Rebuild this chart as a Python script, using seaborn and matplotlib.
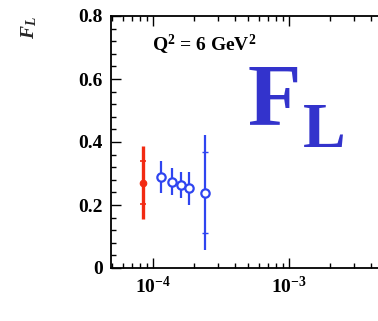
import numpy as np
import pandas as pd
import matplotlib
matplotlib.use("Agg")
import matplotlib.pyplot as plt
import seaborn as sns
from matplotlib.ticker import FixedLocator, LogLocator, FuncFormatter, MultipleLocator, NullFormatter

# H1 measurement (red) at lowest x
x_red = [8.4e-5]
fl_red = [0.271]
tot_red = [0.115]
stat_red = [0.068]

# ZEUS-like points (blue, open circles)
x_blue = [1.15e-4, 1.39e-4, 1.60e-4, 1.85e-4, 2.41e-4]
fl_blue = [0.290, 0.274, 0.263, 0.253, 0.239]
tot_blue = [0.051, 0.043, 0.042, 0.052, 0.183]
stat_blue_x = [2.41e-4]
stat_blue_y = [0.239]
stat_blue = [0.128]

y_ticks = [0, 0.2, 0.4, 0.6, 0.8]
y_labels = ["0", "0.2", "0.4", "0.6", "0.8"]
x_ticks = [1e-4, 1e-3]
x_labels = [r"$\mathbf{10^{-4}}$", r"$\mathbf{10^{-3}}$"]

RED = "#f22a12"
BLUE = "#2f45f0"
TITLE_BLUE = "#3333cc"

sns.set_theme(style="ticks")
plt.rcParams["font.family"] = ["Liberation Serif", "DejaVu Serif"]
plt.rcParams["mathtext.fontset"] = "custom"
plt.rcParams["mathtext.rm"] = "Liberation Serif"
plt.rcParams["mathtext.bf"] = "Liberation Serif:bold"
plt.rcParams["mathtext.it"] = "Liberation Serif:italic:bold"

fig = plt.figure(figsize=(3.78, 3.21), dpi=100)
fig.patch.set_facecolor("white")
ax = fig.add_axes([111 / 378, 53 / 321, 267 / 378, 252 / 321])
ax.set_facecolor("white")
ax.set_xscale("log")
ax.set_xlim(10 ** -4.309, 10 ** -2.346)
ax.set_ylim(0, 0.8)

df_red = pd.DataFrame({"x": x_red, "fl": fl_red})
df_blue = pd.DataFrame({"x": x_blue, "fl": fl_blue})

# total error bars
ax.errorbar(x_red, fl_red, yerr=tot_red, fmt="none", ecolor=RED,
            elinewidth=2.4, capsize=0, zorder=2)
ax.errorbar(x_blue, fl_blue, yerr=tot_blue, fmt="none", ecolor=BLUE,
            elinewidth=1.6, capsize=0, zorder=2)
# statistical error marks
ax.errorbar(x_red, fl_red, yerr=stat_red, fmt="none", ecolor=RED,
            elinewidth=0, capsize=2.0, capthick=1.2, zorder=2)
ax.errorbar(stat_blue_x, stat_blue_y, yerr=stat_blue, fmt="none", ecolor=BLUE,
            elinewidth=0, capsize=2.0, capthick=1.0, zorder=2)

sns.scatterplot(data=df_red, x="x", y="fl", ax=ax, marker="o", s=22,
                color=RED, edgecolor=RED, linewidth=0.8, zorder=3, legend=False)
sns.scatterplot(data=df_blue, x="x", y="fl", ax=ax, marker="o", s=36,
                facecolor="white", edgecolor=BLUE, linewidth=1.6, zorder=3,
                legend=False)

ax.set_xlabel("")
ax.set_ylabel(r"$F_L$", fontsize=14, rotation=90)
ax.yaxis.set_label_coords(-0.27, 0.955)

ax.xaxis.set_major_locator(FixedLocator(x_ticks))
ax.xaxis.set_major_formatter(FuncFormatter(lambda v, p: x_labels[x_ticks.index(v)] if v in x_ticks else ""))
ax.xaxis.set_minor_locator(LogLocator(base=10, subs=np.arange(2, 10)))
ax.xaxis.set_minor_formatter(NullFormatter())
ax.yaxis.set_major_locator(FixedLocator(y_ticks))
ax.set_yticklabels(y_labels)
ax.yaxis.set_minor_locator(MultipleLocator(0.04))

for lab in ax.get_yticklabels() + ax.get_xticklabels():
    lab.set_fontweight("bold")
    lab.set_fontsize(14)

ax.tick_params(which="both", direction="in", top=True, right=False,
               colors="black", width=1.0)
ax.tick_params(which="major", length=7.5)
ax.tick_params(which="minor", length=3.5)
ax.tick_params(axis="y", which="major", pad=6)
ax.tick_params(axis="x", which="major", pad=6)

for side in ["left", "bottom", "top"]:
    ax.spines[side].set_color("black")
    ax.spines[side].set_linewidth(1.3)
ax.spines["right"].set_visible(False)

fig.text(152 / 378, (321 - 51) / 321, r"Q$^{\mathbf{2}}$ = 6 GeV$^{\mathbf{2}}$",
         fontsize=14, fontweight="bold", color="black", ha="left", va="baseline")
fig.text(248 / 378, (321 - 124) / 321, "F", fontsize=63, fontweight="bold",
         color=TITLE_BLUE, ha="left", va="baseline")
fig.text(303 / 378, (321 - 147) / 321, "L", fontsize=46, fontweight="bold",
         color=TITLE_BLUE, ha="left", va="baseline")

fig.savefig("out.png", dpi=100, facecolor="white")
